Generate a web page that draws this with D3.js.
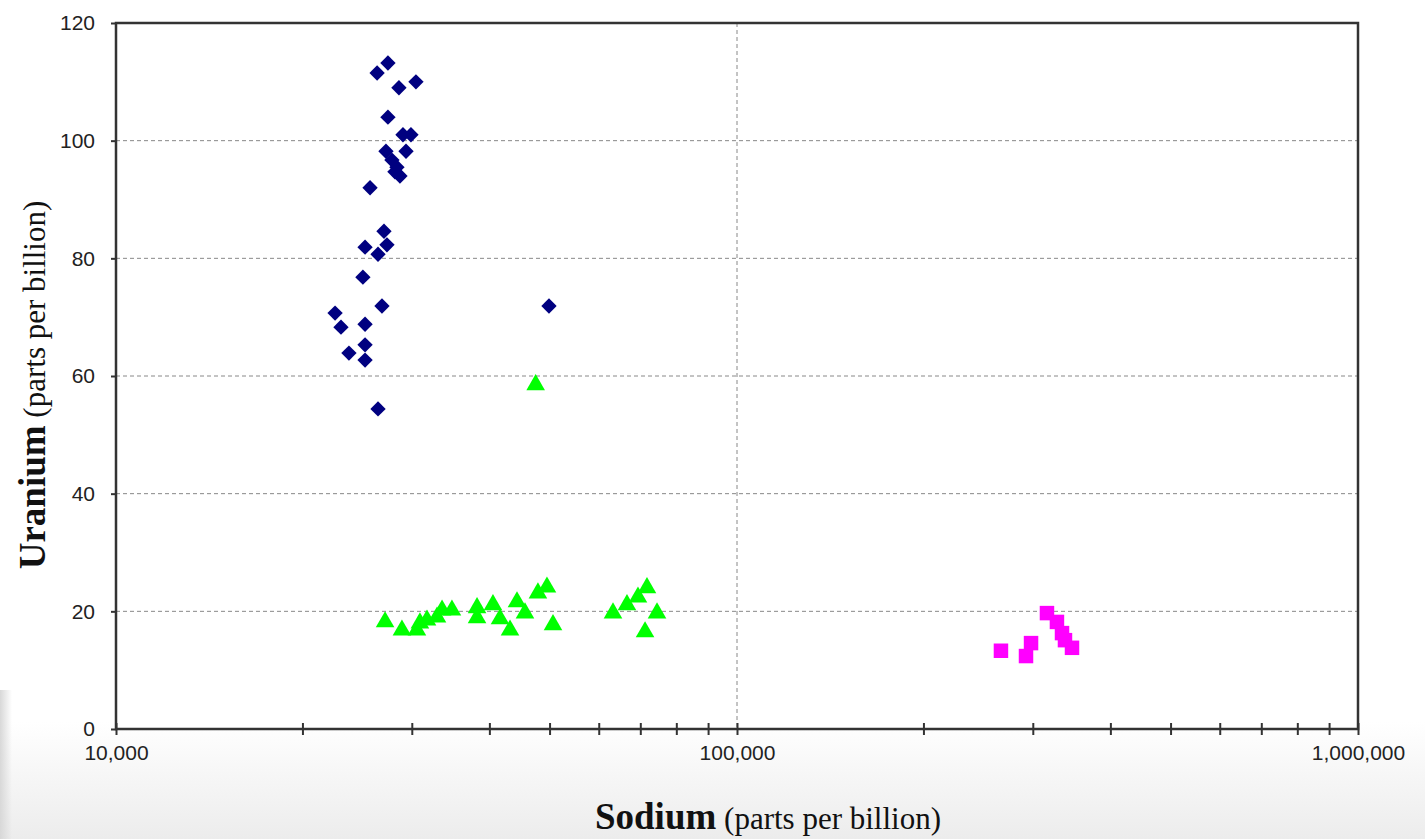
<!DOCTYPE html>
<html>
<head>
<meta charset="utf-8">
<script src="https://cdn.jsdelivr.net/npm/d3@7"></script>
<style>
  body { margin: 0; background: #fff; }
  svg { display: block; }
</style>
</head>
<body>
<svg id="chart" width="1425" height="839"></svg>
<script>
// sodium (ppb) / uranium (ppb)
var blueNa = [27410, 26330, 28550, 30410, 27410, 28980, 29850, 27210, 29310, 27820, 28340,
              28660, 28130, 25650, 27010, 25180, 27310, 26420, 24980, 26810, 22530, 23030,
              25180, 25180, 23720, 25180, 26420, 49800];
var blueU  = [113.2, 111.5, 109.0, 110.0, 104.0, 101.0, 101.0, 98.2, 98.2, 96.7, 95.5,
              94.0, 94.7, 92.0, 84.6, 81.9, 82.3, 80.7, 76.8, 71.9, 70.7, 68.3,
              68.8, 65.3, 63.9, 62.7, 54.4, 71.9];

var greenNa = [27120, 28870, 30520, 30860, 31680, 32880, 33500, 34750, 38140, 38140, 40460,
               41530, 43100, 44230, 45560, 47800, 49430, 50550, 63140, 66500, 69270, 71620,
               71110, 74340, 47400];
var greenU  = [18.2, 16.8, 16.8, 18.0, 18.5, 19.0, 20.2, 20.2, 20.6, 18.9, 21.1,
               18.7, 16.8, 21.6, 19.7, 23.1, 24.1, 17.7, 19.7, 21.1, 22.4, 24.0,
               16.5, 19.7, 58.5];

var pinkNa = [266100, 292000, 297500, 315600, 327500, 333700, 337400, 346300];
var pinkU  = [13.3, 12.4, 14.6, 19.7, 18.2, 16.3, 15.1, 13.8];

var yTicks = [0, 20, 40, 60, 80, 100, 120];
var xTicks = [10000, 100000, 1000000];

var svg = d3.select("#chart");
var margin = {top: 23, right: 67, bottom: 110, left: 116},
    width = 1425 - margin.left - margin.right,
    height = 839 - margin.top - margin.bottom;

// soft grey slide background at bottom/left
var defs = svg.append("defs");
var grad = defs.append("linearGradient").attr("id", "bg").attr("x1", 0).attr("y1", 0).attr("x2", 0).attr("y2", 1);
grad.append("stop").attr("offset", "0.86").attr("stop-color", "#ffffff");
grad.append("stop").attr("offset", "1").attr("stop-color", "#ececec");
svg.append("rect").attr("width", 1425).attr("height", 839).attr("fill", "url(#bg)");
var grad2 = defs.append("linearGradient").attr("id", "side").attr("x1", 0).attr("y1", 0).attr("x2", 1).attr("y2", 0);
grad2.append("stop").attr("offset", "0").attr("stop-color", "#d8d8d8");
grad2.append("stop").attr("offset", "1").attr("stop-color", "#d8d8d8").attr("stop-opacity", 0);
svg.append("rect").attr("x", 0).attr("y", 690).attr("width", 12).attr("height", 149).attr("fill", "url(#side)");

var g = svg.append("g").attr("transform", "translate(" + margin.left + "," + margin.top + ")");

var x = d3.scaleLog().domain([10000, 1000000]).range([0, width]);
var y = d3.scaleLinear().domain([0, 120]).range([height, 0]);

g.append("rect").attr("width", width).attr("height", height).attr("fill", "#fff");

// grid
g.append("g")
  .selectAll("line")
  .data(yTicks.slice(1, -1))
  .enter().append("line")
  .attr("x1", 0).attr("x2", width)
  .attr("y1", function(d) { return y(d); }).attr("y2", function(d) { return y(d); })
  .attr("stroke", "#888").attr("stroke-width", 1).attr("stroke-dasharray", "4,3");

g.append("line")
  .attr("x1", x(100000)).attr("x2", x(100000))
  .attr("y1", 0).attr("y2", height)
  .attr("stroke", "#888").attr("stroke-width", 1).attr("stroke-dasharray", "4,3");

// frame
g.append("rect").attr("width", width).attr("height", height)
  .attr("fill", "none").attr("stroke", "#333").attr("stroke-width", 2.5);

// y axis
var yAxis = g.append("g")
  .call(d3.axisLeft(y).tickValues(yTicks).tickSize(5).tickPadding(16));
yAxis.select(".domain").remove();
yAxis.selectAll("line").attr("stroke", "#333").attr("stroke-width", 2);
yAxis.selectAll("text").attr("font-family", "Liberation Sans, Arial, sans-serif")
  .attr("font-size", 21).attr("fill", "#222");

// x axis: minor ticks cross the axis line
var minor = [];
[10000, 100000].forEach(function(dec) {
  for (var k = 2; k <= 9; k++) minor.push(dec * k);
});
g.append("g").selectAll("line")
  .data(minor)
  .enter().append("line")
  .attr("x1", function(d) { return x(d); }).attr("x2", function(d) { return x(d); })
  .attr("y1", height - 6).attr("y2", height + 6)
  .attr("stroke", "#333").attr("stroke-width", 2);

var xAxis = g.append("g")
  .attr("transform", "translate(0," + height + ")")
  .call(d3.axisBottom(x).tickValues(xTicks).tickSize(6).tickPadding(10).tickFormat(d3.format(",")));
xAxis.select(".domain").remove();
xAxis.selectAll("line").attr("stroke", "#333").attr("stroke-width", 2).attr("y1", -6);
xAxis.selectAll("text").attr("font-family", "Liberation Sans, Arial, sans-serif")
  .attr("font-size", 21).attr("fill", "#222");

// markers
var diamond = d3.symbol().type(d3.symbolDiamond2).size(150);
var tri = d3.symbol().type(d3.symbolTriangle).size(150);
var sq = d3.symbol().type(d3.symbolSquare).size(210);

g.append("g").selectAll("path")
  .data(d3.range(blueNa.length))
  .enter().append("path")
  .attr("d", diamond)
  .attr("transform", function(i) { return "translate(" + x(blueNa[i]) + "," + y(blueU[i]) + ")"; })
  .attr("fill", "#000080");

g.append("g").selectAll("path")
  .data(d3.range(greenNa.length))
  .enter().append("path")
  .attr("d", tri)
  .attr("transform", function(i) { return "translate(" + x(greenNa[i]) + "," + y(greenU[i]) + ")"; })
  .attr("fill", "#00ff00");

g.append("g").selectAll("path")
  .data(d3.range(pinkNa.length))
  .enter().append("path")
  .attr("d", sq)
  .attr("transform", function(i) { return "translate(" + x(pinkNa[i]) + "," + y(pinkU[i]) + ")"; })
  .attr("fill", "#ff00ff");

// axis titles
var xt = svg.append("text")
  .attr("x", 768).attr("y", 829)
  .attr("text-anchor", "middle")
  .attr("font-family", "Liberation Serif, Times New Roman, serif")
  .attr("fill", "#111");
xt.append("tspan").attr("font-weight", "bold").attr("font-size", 37).text("Sodium");
xt.append("tspan").attr("font-size", 31).text(" (parts per billion)");

var yt = svg.append("text")
  .attr("transform", "translate(45,385) rotate(-90)")
  .attr("text-anchor", "middle")
  .attr("font-family", "Liberation Serif, Times New Roman, serif")
  .attr("fill", "#111");
yt.append("tspan").attr("font-weight", "bold").attr("font-size", 37).text("Uranium");
yt.append("tspan").attr("font-size", 31).text(" (parts per billion)");
</script>
</body>
</html>
